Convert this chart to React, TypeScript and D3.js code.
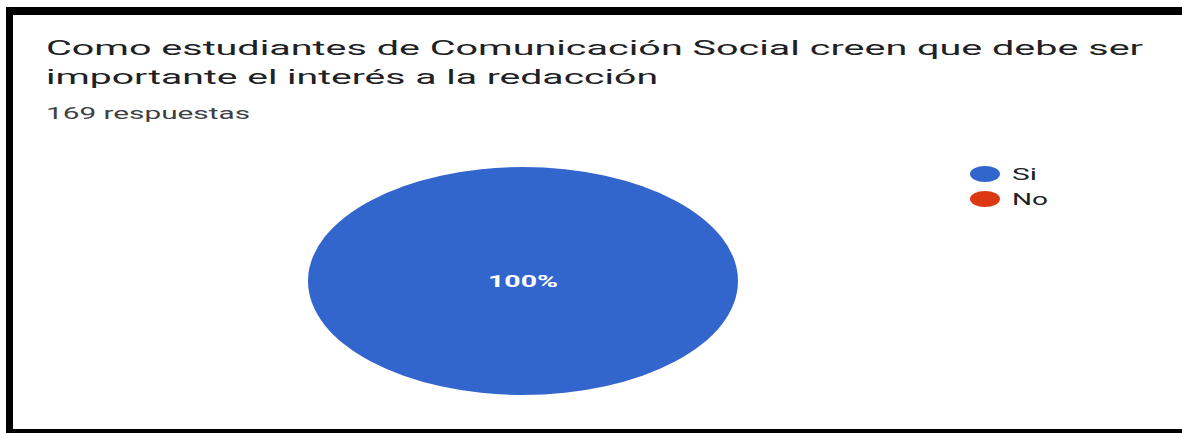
import { useEffect, useRef } from 'react';
import * as d3 from 'd3';

const categories = ['Si', 'No'];
const values = [169, 0];
const colors = ['#3366cc', '#dc3912'];
const titleLines = [
  'Como estudiantes de Comunicación Social creen que debe ser',
  'importante el interés a la redacción',
];
const subtitle = '169 respuestas';

export default function App() {
  const svgRef = useRef<SVGSVGElement>(null);

  useEffect(() => {
    if (!svgRef.current) return;
    const W = 1182;
    const H = 433;
    const svg = d3.select(svgRef.current).attr('width', W).attr('height', H);
    svg.selectAll('*').remove();

    svg.append('rect').attr('width', W).attr('height', H).style('fill', '#fff');

    // Frame (screenshot border)
    svg.append('rect').attr('x', 6).attr('y', 7).attr('width', W - 6).attr('height', 8).style('fill', '#000');
    svg.append('rect').attr('x', 6).attr('y', 7).attr('width', 7).attr('height', H - 7).style('fill', '#000');
    svg.append('rect').attr('x', 6).attr('y', 429).attr('width', W - 6).attr('height', 4).style('fill', '#000');

    // Title
    const titleWidths = [1097, 612];
    const titleY = [55, 84];
    titleLines.forEach((t, i) => {
      svg.append('text').attr('x', 46).attr('y', titleY[i])
        .attr('textLength', titleWidths[i]).attr('lengthAdjust', 'spacingAndGlyphs')
        .style('font-family', 'Roboto, sans-serif').style('font-size', '21px')
        .style('fill', '#202124').text(t);
    });
    svg.append('text').attr('x', 46).attr('y', 119)
      .attr('textLength', 204).attr('lengthAdjust', 'spacingAndGlyphs')
      .style('font-family', 'Roboto, sans-serif').style('font-size', '16.5px')
      .style('fill', '#3c4043').text(subtitle);

    // Pie (stretched horizontally like the reference)
    const cx = 523, cy = 281, rx = 215, ry = 114;
    const total = d3.sum(values);
    const pie = d3.pie<number>().sort(null).value(d => d);
    const arcs = pie(values).filter(a => a.value > 0);
    const arc = d3.arc<d3.PieArcDatum<number>>().innerRadius(0).outerRadius(ry);
    const g = svg.append('g').attr('transform', `translate(${cx},${cy}) scale(${rx / ry},1)`);
    g.selectAll('path').data(arcs).enter().append('path')
      .attr('d', arc).style('fill', d => colors[d.index]);

    arcs.forEach(a => {
      const full = a.endAngle - a.startAngle >= 2 * Math.PI - 1e-6;
      const [lx, ly] = full ? [0, 0] : d3.arc<d3.PieArcDatum<number>>().innerRadius(ry * 0.6).outerRadius(ry * 0.6).centroid(a);
      svg.append('text')
        .attr('x', cx + lx * (rx / ry)).attr('y', cy + ly + 6)
        .attr('text-anchor', 'middle')
        .attr('textLength', 70).attr('lengthAdjust', 'spacingAndGlyphs')
        .style('font-family', 'Roboto, sans-serif').style('font-size', '16.5px').style('font-weight', 'bold')
        .style('fill', '#fff').text(`${Math.round((a.value / total) * 100)}%`);
    });

    // Legend
    const legendTextW = [25, 36];
    categories.forEach((c, i) => {
      const y = 174 + i * 25;
      svg.append('ellipse').attr('cx', 985).attr('cy', y).attr('rx', 15).attr('ry', 8).style('fill', colors[i]);
      svg.append('text').attr('x', 1012).attr('y', y + 6)
        .attr('textLength', legendTextW[i]).attr('lengthAdjust', 'spacingAndGlyphs')
        .style('font-family', 'Roboto, sans-serif').style('font-size', '16.5px')
        .style('fill', '#202124').text(c);
    });
  }, []);

  return (
    <div style={{ position: 'absolute', left: 0, top: 0 }}>
      <svg ref={svgRef} style={{ display: 'block' }} />
    </div>
  );
}
